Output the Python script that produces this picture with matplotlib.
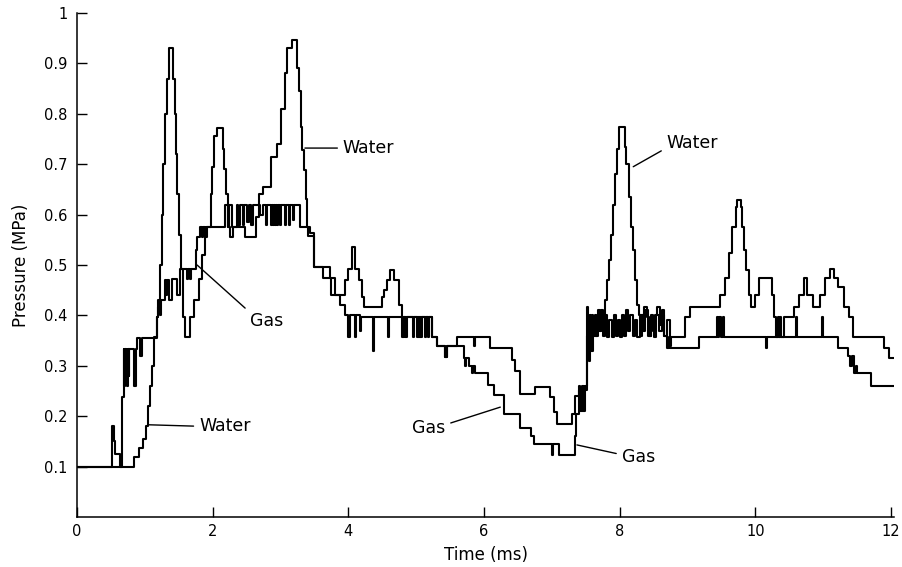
import matplotlib
matplotlib.use("Agg")
import matplotlib.pyplot as plt

# ---- data (time in ms, pressure in MPa; step-wise, value holds until next time) ----
water_t = [0.00, 0.84, 0.91, 0.98, 1.02, 1.05, 1.07, 1.10, 1.13, 1.18, 1.20, 1.23, 1.25, 1.27,
           1.29, 1.32, 1.35, 1.42, 1.44, 1.46, 1.48, 1.50, 1.53, 1.57, 1.59, 1.67, 1.72, 1.80,
           1.85, 1.88, 1.92, 1.97, 1.99, 2.02, 2.06, 2.15, 2.17, 2.20, 2.23, 2.26, 2.30, 2.48,
           2.64, 2.69, 2.74, 2.86, 2.95, 3.00, 3.06, 3.10, 3.17, 3.25, 3.27, 3.30, 3.32, 3.35,
           3.37, 3.39, 3.44, 3.50, 3.73, 3.81, 3.95, 4.00, 4.05, 4.10, 4.15, 4.20, 4.23, 4.49,
           4.52, 4.57, 4.62, 4.67, 4.74, 4.79, 5.02, 5.04, 5.06, 5.08, 5.23, 5.31, 5.43, 5.46,
           5.60, 5.85, 5.87, 6.09, 6.41, 6.46, 6.53, 6.75, 6.98, 7.03, 7.08, 7.30, 7.34, 7.40,
           7.44, 7.47, 7.52, 7.54, 7.56, 7.58, 7.60, 7.63, 7.66, 7.69, 7.72, 7.76, 7.79, 7.82,
           7.84, 7.87, 7.90, 7.93, 7.96, 7.99, 8.08, 8.10, 8.14, 8.17, 8.19, 8.22, 8.26, 8.29,
           8.31, 8.33, 8.36, 8.40, 8.43, 8.46, 8.49, 8.52, 8.55, 8.60, 8.63, 8.66, 8.70, 8.74,
           8.76, 8.97, 9.04, 9.48, 9.56, 9.61, 9.66, 9.71, 9.73, 9.79, 9.81, 9.83, 9.86, 9.90,
           9.94, 10.00, 10.05, 10.25, 10.28, 10.31, 10.42, 10.57, 10.64, 10.72, 10.76, 10.85,
           10.96, 11.03, 11.10, 11.16, 11.22, 11.30, 11.38, 11.44, 11.90, 11.97, 12.05]
water_p = [0.100, 0.120, 0.137, 0.155, 0.180, 0.220, 0.260, 0.300, 0.358, 0.397, 0.417, 0.500, 0.600, 0.700,
           0.800, 0.870, 0.930, 0.870, 0.800, 0.720, 0.640, 0.560, 0.493, 0.397, 0.358, 0.397, 0.430, 0.473,
           0.520, 0.556, 0.576, 0.640, 0.695, 0.755, 0.771, 0.730, 0.690, 0.640, 0.576, 0.556, 0.576, 0.556,
           0.596, 0.640, 0.655, 0.715, 0.740, 0.810, 0.880, 0.930, 0.946, 0.890, 0.846, 0.774, 0.728, 0.688,
           0.630, 0.576, 0.563, 0.497, 0.474, 0.440, 0.470, 0.493, 0.536, 0.493, 0.470, 0.437, 0.417, 0.437,
           0.450, 0.470, 0.490, 0.470, 0.420, 0.397, 0.358, 0.397, 0.358, 0.397, 0.358, 0.340, 0.318, 0.340,
           0.358, 0.340, 0.358, 0.335, 0.312, 0.290, 0.245, 0.258, 0.239, 0.209, 0.185, 0.205, 0.240, 0.252,
           0.210, 0.252, 0.417, 0.360, 0.400, 0.330, 0.390, 0.360, 0.400, 0.370, 0.410, 0.380, 0.430, 0.470,
           0.510, 0.560, 0.620, 0.680, 0.730, 0.774, 0.735, 0.700, 0.635, 0.575, 0.530, 0.470, 0.420, 0.400,
           0.360, 0.400, 0.417, 0.397, 0.360, 0.400, 0.370, 0.400, 0.417, 0.380, 0.400, 0.360, 0.390, 0.340,
           0.358, 0.397, 0.417, 0.440, 0.474, 0.523, 0.576, 0.616, 0.629, 0.616, 0.576, 0.530, 0.490, 0.440,
           0.417, 0.440, 0.474, 0.440, 0.397, 0.358, 0.397, 0.417, 0.440, 0.474, 0.440, 0.417,
           0.440, 0.474, 0.492, 0.474, 0.457, 0.417, 0.397, 0.358, 0.335, 0.315, 0.315]

gas_t = [0.00, 0.52, 0.545, 0.565, 0.64, 0.66, 0.69, 0.70, 0.71, 0.72, 0.73, 0.74, 0.75, 0.76,
         0.77, 0.84, 0.87, 0.89, 0.93, 0.96, 1.18, 1.20, 1.22, 1.24, 1.29, 1.31, 1.33, 1.35,
         1.40, 1.47, 1.52, 1.62, 1.64, 1.66, 1.68, 1.75, 1.77, 1.82, 1.84, 1.86, 1.88, 1.90,
         2.18, 2.22, 2.24, 2.28, 2.36, 2.38, 2.40, 2.44, 2.46, 2.50, 2.53, 2.56, 2.60, 2.70,
         2.74, 2.78, 2.80, 2.86, 2.87, 2.89, 2.90, 2.92, 2.93, 2.95, 2.97, 2.99, 3.00, 3.06,
         3.08, 3.12, 3.14, 3.18, 3.20, 3.29, 3.40, 3.50, 3.63, 3.75, 3.88, 3.95, 4.00, 4.02,
         4.10, 4.12, 4.17, 4.19, 4.36, 4.38, 4.58, 4.60, 4.79, 4.80, 4.81, 4.82, 4.84, 4.86,
         4.95, 4.97, 5.01, 5.02, 5.04, 5.06, 5.13, 5.15, 5.17, 5.19, 5.23, 5.31, 5.43, 5.46,
         5.70, 5.72, 5.74, 5.78, 5.82, 5.84, 5.86, 6.06, 6.14, 6.29, 6.53, 6.70, 6.73, 7.00,
         7.02, 7.10, 7.34, 7.36, 7.40, 7.42, 7.45, 7.47, 7.49, 7.52, 7.53, 7.545, 7.56, 7.575,
         7.59, 7.61, 7.63, 7.65, 7.68, 7.71, 7.73, 7.76, 7.79, 7.82, 7.85, 7.88, 7.91, 7.94,
         7.97, 8.00, 8.03, 8.06, 8.09, 8.12, 8.15, 8.19, 8.22, 8.26, 8.30, 8.34, 8.38, 8.42,
         8.46, 8.50, 8.54, 8.58, 8.62, 8.66, 8.70, 8.72, 8.74, 9.17, 9.43, 9.45, 9.47, 9.50,
         9.52, 9.54, 10.15, 10.17, 10.33, 10.35, 10.37, 10.38, 10.60, 10.62, 10.98, 11.00,
         11.22, 11.37, 11.40, 11.42, 11.45, 11.48, 11.50, 11.70, 12.05]
gas_p = [0.100, 0.180, 0.150, 0.125, 0.100, 0.239, 0.333, 0.260, 0.333, 0.270, 0.333, 0.260, 0.333, 0.280,
         0.333, 0.260, 0.333, 0.355, 0.320, 0.355, 0.397, 0.430, 0.400, 0.430, 0.470, 0.440, 0.470, 0.430,
         0.473, 0.440, 0.493, 0.473, 0.493, 0.473, 0.493, 0.530, 0.556, 0.576, 0.556, 0.576, 0.556, 0.576,
         0.620, 0.576, 0.620, 0.576, 0.620, 0.580, 0.620, 0.580, 0.620, 0.585, 0.620, 0.580, 0.620, 0.600,
         0.620, 0.580, 0.620, 0.580, 0.620, 0.580, 0.620, 0.580, 0.620, 0.580, 0.620, 0.580, 0.620, 0.580,
         0.620, 0.580, 0.620, 0.590, 0.620, 0.576, 0.557, 0.497, 0.474, 0.440, 0.420, 0.400, 0.358, 0.400,
         0.358, 0.400, 0.370, 0.397, 0.330, 0.397, 0.358, 0.397, 0.358, 0.397, 0.358, 0.397, 0.358, 0.397,
         0.358, 0.397, 0.358, 0.397, 0.358, 0.397, 0.358, 0.397, 0.358, 0.397, 0.358, 0.340, 0.318, 0.340,
         0.315, 0.300, 0.315, 0.300, 0.285, 0.300, 0.285, 0.262, 0.242, 0.205, 0.177, 0.160, 0.145, 0.123,
         0.145, 0.123, 0.160, 0.205, 0.260, 0.210, 0.260, 0.210, 0.260, 0.360, 0.400, 0.310, 0.390, 0.340,
         0.400, 0.360, 0.400, 0.360, 0.410, 0.370, 0.400, 0.360, 0.400, 0.358, 0.390, 0.358, 0.400, 0.360,
         0.390, 0.358, 0.400, 0.360, 0.410, 0.370, 0.400, 0.360, 0.390, 0.358, 0.400, 0.370, 0.410, 0.360,
         0.390, 0.358, 0.400, 0.370, 0.410, 0.360, 0.335, 0.358, 0.335, 0.358, 0.397, 0.358, 0.397, 0.358,
         0.397, 0.358, 0.335, 0.358, 0.397, 0.358, 0.397, 0.358, 0.397, 0.358, 0.397, 0.358,
         0.335, 0.320, 0.300, 0.320, 0.285, 0.300, 0.285, 0.260, 0.260]

x_ticks = [0, 2, 4, 6, 8, 10, 12]
x_ticklabels = ["0", "2", "4", "6", "8", "10", "12"]
y_ticks = [0.1, 0.2, 0.3, 0.4, 0.5, 0.6, 0.7, 0.8, 0.9, 1.0]
y_ticklabels = ["0.1", "0.2", "0.3", "0.4", "0.5", "0.6", "0.7", "0.8", "0.9", "1"]

plt.rcParams['font.family'] = ['DejaVu Sans']

fig = plt.figure(figsize=(9.03, 5.67), dpi=100)
ax = fig.add_axes([77 / 903, 1 - 517 / 567, (894.4 - 77) / 903, (517 - 13) / 567])

lw = 1.5
ax.step(water_t, water_p, where='post', color='black', lw=lw)
ax.step(gas_t, gas_p, where='post', color='black', lw=lw)

ax.set_xlim(0, 12.05)
ax.set_ylim(0, 1)
ax.set_xticks(x_ticks)
ax.set_xticklabels(x_ticklabels)
ax.set_yticks(y_ticks)
ax.set_yticklabels(y_ticklabels)
ax.tick_params(direction='in', length=7, width=1.0, labelsize=10.5, colors='black')
ax.tick_params(axis='y', pad=7)
ax.tick_params(axis='x', pad=5)
for s in ['top', 'right']:
    ax.spines[s].set_visible(False)
for s in ['left', 'bottom']:
    ax.spines[s].set_linewidth(1.1)

ax.set_xlabel("Time (ms)", fontsize=12, labelpad=5)
ax.set_ylabel("Pressure (MPa)", fontsize=12, labelpad=10)

fs = 12.5
arrow = dict(arrowstyle='-', color='black', lw=1.0, shrinkA=2, shrinkB=0)
ax.annotate("Water", xy=(3.36, 0.732), xytext=(3.92, 0.732), fontsize=fs, va='center', ha='left',
            arrowprops=dict(arrow, relpos=(0, 0.5)))
ax.annotate("Water", xy=(8.20, 0.695), xytext=(8.69, 0.743), fontsize=fs, va='center', ha='left',
            arrowprops=dict(arrow, relpos=(0, 0.2)))
ax.annotate("Water", xy=(1.05, 0.183), xytext=(1.80, 0.180), fontsize=fs, va='center', ha='left',
            arrowprops=dict(arrow, relpos=(0, 0.5)))
ax.annotate("Gas", xy=(1.77, 0.500), xytext=(2.55, 0.388), fontsize=fs, va='center', ha='left',
            arrowprops=dict(arrow, relpos=(0, 1.0)))
ax.annotate("Gas", xy=(6.24, 0.218), xytext=(4.94, 0.176), fontsize=fs, va='center', ha='left',
            arrowprops=dict(arrow, relpos=(1, 0.7)))
ax.annotate("Gas", xy=(7.37, 0.143), xytext=(8.03, 0.120), fontsize=fs, va='center', ha='left',
            arrowprops=dict(arrow, relpos=(0, 0.6)))

fig.savefig("out.png", dpi=100)
